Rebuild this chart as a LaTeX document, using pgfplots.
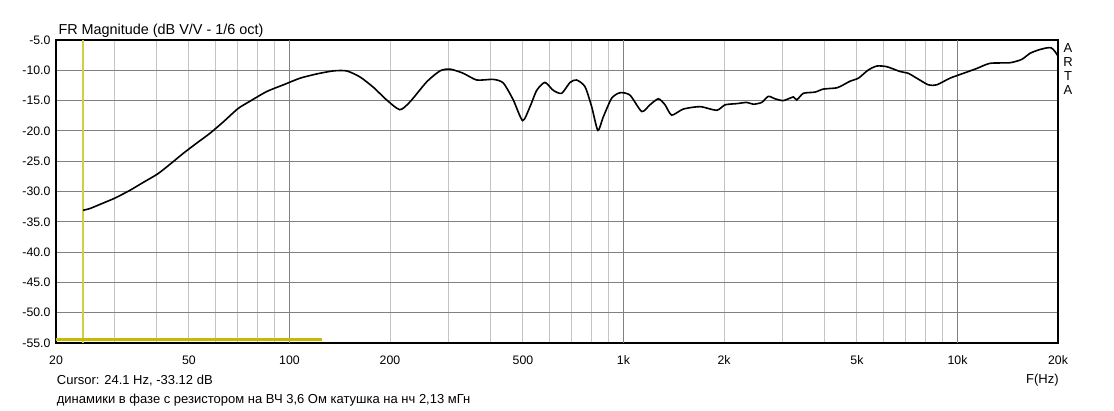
\documentclass[border=0pt]{standalone}
\usepackage{fontspec}
\setmainfont{Liberation Sans}
\usepackage{pgfplots}
\pgfplotsset{compat=1.18}
\definecolor{gridmaj}{RGB}{128,128,128}
\definecolor{gridmin}{RGB}{196,196,196}
\definecolor{curs}{RGB}{196,188,0}
\begin{document}
\begin{tikzpicture}[x=1pt,y=1pt]
\useasboundingbox (0,0) rectangle (1114,411);
\begin{axis}[
  at={(56pt,68pt)}, anchor=south west, scale only axis,
  width=1002pt, height=303pt,
  xmode=log, log basis x=10,
  xmin=20, xmax=20000, ymin=-55, ymax=-5,
  xtick={20,50,100,200,500,1000,2000,5000,10000,20000},
  xticklabels={20,50,100,200,500,1k,2k,5k,10k,20k},
  minor xtick={30,40,50,60,70,80,90,200,300,400,500,600,700,800,900,2000,3000,4000,5000,6000,7000,8000,9000},
  extra x ticks={100,1000,10000},
  extra x tick labels={},
  extra x tick style={xmajorgrids=true, major grid style={gridmaj, line width=0.9pt}},
  ytick={-55,-50,-45,-40,-35,-30,-25,-20,-15,-10,-5},
  xminorgrids=true, ymajorgrids=true,
  minor grid style={gridmin, line width=0.9pt},
  major grid style={gridmaj, line width=0.9pt},
  major tick length=0pt, minor tick length=0pt,
  axis line style={black, line width=1.2pt},
  /pgf/number format/assume math mode=true,
  yticklabel={\pgfmathprintnumber[fixed, fixed zerofill, precision=1]{\tick}},
  yticklabel style={anchor=east, inner sep=0pt, xshift=-5.3pt, font=\fontsize{12.3}{14}\selectfont},
  xticklabel style={anchor=base, inner sep=0pt, yshift=-21.3pt, font=\fontsize{12.3}{14}\selectfont},
  clip=true,
]
\addplot[curs!75!white, line width=1.3pt, forget plot] coordinates {(24.1,-55) (24.1,-5)};
\addplot[curs, line width=2.4pt, forget plot] coordinates {(20,-54.45) (125,-54.45)};
\addplot[black, line width=1.6pt, smooth, tension=0.4] coordinates {
(24.1,-33.1) (25.3,-32.8) (27.7,-31.9) (30.0,-31.1) (33.3,-29.8) (36.5,-28.5)
(40.3,-27.1) (43.9,-25.5) (48.1,-23.7) (52.8,-22.0) (57.8,-20.4) (63.4,-18.5)
(70.2,-16.3) (76.2,-15.1) (85.5,-13.5) (95.9,-12.4) (107.6,-11.3) (120.7,-10.6)
(135.3,-10.1) (148.4,-10.1) (162.6,-11.1) (178.3,-12.8) (195.5,-14.9) (214,-16.5)
(229.6,-15.2) (257.6,-11.9) (282.2,-10.1) (302.4,-9.8) (331.6,-10.5) (363.6,-11.6)
(407.8,-11.5) (436.8,-12.1) (467.9,-14.9) (499,-18.3) (525,-16.0) (550,-13.3)
(582,-12.0) (616,-13.3) (653,-13.8) (692,-12.0) (724,-11.6) (767,-12.7)
(803,-16.0) (838,-19.9) (870,-17.7) (922,-14.6) (977,-13.7) (1046,-14.1)
(1134,-16.8) (1200,-15.7) (1272,-14.7) (1332,-15.7) (1394,-17.4) (1510,-16.4)
(1696,-16.0) (1902,-16.6) (2014,-15.7) (2184,-15.5) (2340,-15.3) (2448,-15.6)
(2594,-15.3) (2715,-14.3) (2843,-14.7) (3010,-15.0) (3226,-14.4) (3302,-14.9)
(3456,-13.8) (3746,-13.6) (3966,-13.1) (4350,-12.9) (4553,-12.4) (4768,-11.8)
(5050,-11.3) (5408,-9.95) (5732,-9.3) (6139,-9.4) (6730,-10.2) (7124,-10.5)
(7551,-11.3) (8181,-12.4) (8668,-12.4) (9499,-11.3) (10412,-10.5) (11421,-9.7)
(12518,-8.85) (14363,-8.75) (15572,-8.2) (16490,-7.2) (17470,-6.65) (18510,-6.3)
(19100,-6.3) (19590,-6.9) (20000,-7.65)
};
\end{axis}
\node[anchor=base west, inner sep=0pt, font=\fontsize{14.4}{16}\selectfont] at (58.3,376.7) {FR Magnitude (dB V/V - 1/6 oct)};
\node[anchor=base west, inner sep=0pt, font=\fontsize{13}{15}\selectfont] at (56.7,26.3) {Cursor: 24.1 Hz, -33.12 dB};
\node[anchor=base west, inner sep=0pt, font=\fontsize{13}{15}\selectfont] at (56.7,7) {динамики в фазе с резистором на ВЧ 3,6 Ом катушка на нч 2,13 мГн};
\node[anchor=base west, inner sep=0pt, font=\fontsize{13}{15}\selectfont] at (1026,27) {F(Hz)};
\node[anchor=base, inner sep=0pt, font=\fontsize{13}{15}\selectfont] at (1068,358.3) {A};
\node[anchor=base, inner sep=0pt, font=\fontsize{13}{15}\selectfont] at (1068,344.3) {R};
\node[anchor=base, inner sep=0pt, font=\fontsize{13}{15}\selectfont] at (1068,330) {T};
\node[anchor=base, inner sep=0pt, font=\fontsize{13}{15}\selectfont] at (1068,316) {A};
\end{tikzpicture}
\end{document}
